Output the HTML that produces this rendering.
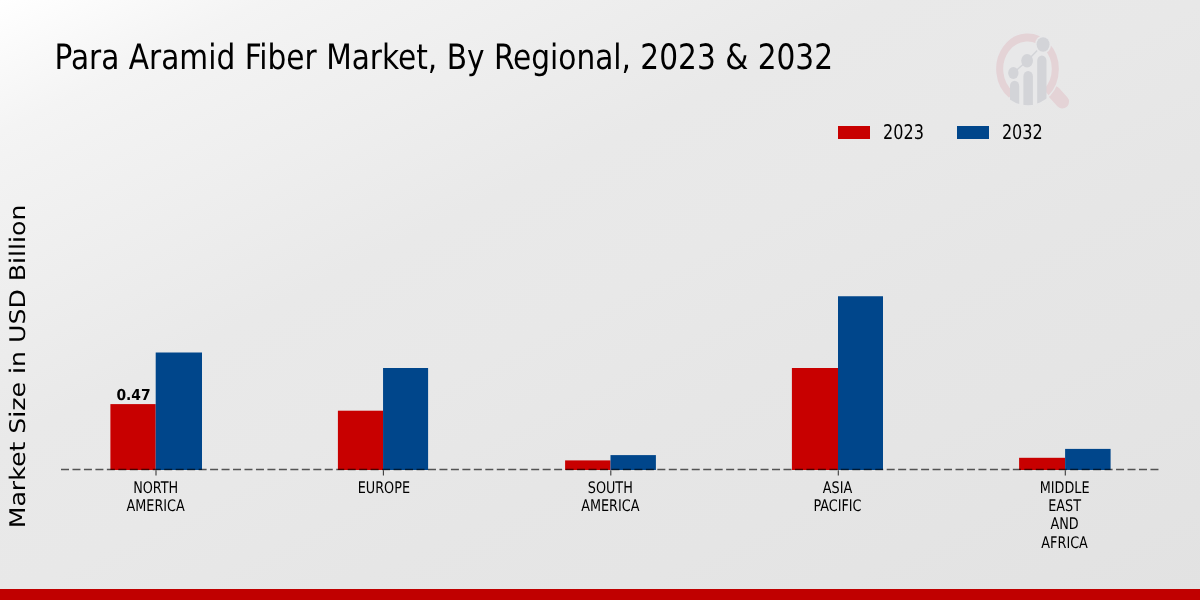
<!DOCTYPE html>
<html><head><meta charset="utf-8"><style>
html,body{margin:0;padding:0;width:1200px;height:600px;overflow:hidden;}
body{background:linear-gradient(to bottom right,#ffffff 0%,#f4f4f4 11%,#f2f2f2 15%,#eeeeee 25%,#e9e9e9 37%,#e8e8e8 50%,#e6e6e6 63%,#e5e5e5 75%,#e2e2e2 100%);}
svg{position:absolute;left:0;top:0;will-change:transform;}
text{font-family:"DejaVu Sans","Liberation Sans",sans-serif;text-rendering:geometricPrecision;}
</style></head><body>
<svg width="1200" height="600" viewBox="0 0 1200 600">
<defs><clipPath id="lensclip"><ellipse cx="0" cy="0" rx="37.2" ry="36.3"/></clipPath></defs>
<g id="logo">
 <line x1="1054" y1="92.5" x2="1062.3" y2="101.7" stroke="#e4d3d6" stroke-width="13.5" stroke-linecap="round"/>
 <g transform="translate(1027.5 69) scale(0.88 1)">
 <circle cx="0" cy="0" r="37.2" fill="#e8e8e9"/>
 <path d="M-18.57 25.56 A31.6 31.6 0 1 1 21.3 23.34" fill="none" stroke="#e4d3d6" stroke-width="8"/>
 <g clip-path="url(#lensclip)" fill="#d3d4d8">
  <path d="M-19.9 17.05 a5.235 5.235 0 0 1 10.47 0 V40 H-19.9 Z"/>
  <path d="M-4.66 7.4 a5.4 5.4 0 0 1 10.8 0 V40 H-4.66 Z"/>
  <path d="M11.02 -8.33 a5.29 5.17 0 0 1 10.58 0 V40 H11.02 Z"/>
 </g>
 <polyline points="-16.1,4 -0.45,-8.2 17.7,-24.5" fill="none" stroke="#d3d4d8" stroke-width="1.5"/>
 <circle cx="17.7" cy="-24.5" r="9.1" fill="#e8e8e9"/>
 <circle cx="-16.1" cy="4" r="5.9" fill="#d3d4d8"/>
 <circle cx="-0.45" cy="-8.2" r="6.7" fill="#d3d4d8"/>
 <circle cx="17.7" cy="-24.5" r="7.35" fill="#d3d4d8"/>
 </g>
</g>
<text transform="translate(54.50 69.00) scale(0.9437 1)" text-anchor="start" font-size="34.9" font-weight="normal" font-stretch="condensed" style="font-family:&quot;DejaVu Sans Condensed&quot;,&quot;DejaVu Sans&quot;,&quot;Liberation Sans Narrow&quot;,sans-serif" fill="#000" >Para Aramid Fiber Market, By Regional, 2023 &amp; 2032</text>
<rect x="838" y="126" width="32" height="13" fill="#c80000"/>
<text transform="translate(883.00 139.40) scale(0.885 1)" text-anchor="start" font-size="20.2" font-weight="normal" font-stretch="condensed" style="font-family:&quot;DejaVu Sans Condensed&quot;,&quot;DejaVu Sans&quot;,&quot;Liberation Sans Narrow&quot;,sans-serif" fill="#000" >2023</text>
<rect x="957" y="126" width="32" height="13" fill="#00468b"/>
<text transform="translate(1001.90 139.40) scale(0.885 1)" text-anchor="start" font-size="20.2" font-weight="normal" font-stretch="condensed" style="font-family:&quot;DejaVu Sans Condensed&quot;,&quot;DejaVu Sans&quot;,&quot;Liberation Sans Narrow&quot;,sans-serif" fill="#000" >2032</text>
<text transform="translate(24.8 528.3) rotate(-90) scale(1 0.855)" font-size="25.2" fill="#000">Market Size in USD Billion</text>
<rect x="110.40" y="404.10" width="45.30" height="65.90" fill="#c80000"/>
<rect x="155.70" y="352.50" width="46.30" height="117.50" fill="#00468b"/>
<rect x="337.90" y="410.70" width="45.15" height="59.30" fill="#c80000"/>
<rect x="383.05" y="368.00" width="45.05" height="102.00" fill="#00468b"/>
<rect x="565.10" y="460.40" width="45.40" height="9.60" fill="#c80000"/>
<rect x="610.50" y="455.10" width="45.40" height="14.90" fill="#00468b"/>
<rect x="791.90" y="368.00" width="46.10" height="102.00" fill="#c80000"/>
<rect x="838.00" y="296.25" width="45.00" height="173.75" fill="#00468b"/>
<rect x="1019.10" y="457.80" width="46.00" height="12.20" fill="#c80000"/>
<rect x="1065.10" y="448.90" width="45.50" height="21.10" fill="#00468b"/>
<line x1="61" y1="469.55" x2="1159" y2="469.55" stroke="#000" stroke-opacity="0.64" stroke-width="1.4" stroke-dasharray="8 3.468"/>
<line x1="156.00" y1="470.20" x2="156.00" y2="475.40" stroke="#000" stroke-opacity="0.75" stroke-width="1.1"/>
<line x1="383.40" y1="470.20" x2="383.40" y2="475.40" stroke="#000" stroke-opacity="0.75" stroke-width="1.1"/>
<line x1="610.80" y1="470.20" x2="610.80" y2="475.40" stroke="#000" stroke-opacity="0.75" stroke-width="1.1"/>
<line x1="838.30" y1="470.20" x2="838.30" y2="475.40" stroke="#000" stroke-opacity="0.75" stroke-width="1.1"/>
<line x1="1065.30" y1="470.20" x2="1065.30" y2="475.40" stroke="#000" stroke-opacity="0.75" stroke-width="1.1"/>
<text transform="translate(133.50 400.30) scale(0.913 1)" text-anchor="middle" font-size="15.2" font-weight="bold" font-stretch="normal" fill="#000" >0.47</text>
<text transform="translate(155.65 492.70) scale(0.89 1)" text-anchor="middle" font-size="16" font-weight="normal" font-stretch="condensed" style="font-family:&quot;DejaVu Sans Condensed&quot;,&quot;DejaVu Sans&quot;,&quot;Liberation Sans Narrow&quot;,sans-serif" fill="#000" >NORTH</text>
<text transform="translate(155.65 511.00) scale(0.89 1)" text-anchor="middle" font-size="16" font-weight="normal" font-stretch="condensed" style="font-family:&quot;DejaVu Sans Condensed&quot;,&quot;DejaVu Sans&quot;,&quot;Liberation Sans Narrow&quot;,sans-serif" fill="#000" >AMERICA</text>
<text transform="translate(383.85 492.70) scale(0.89 1)" text-anchor="middle" font-size="16" font-weight="normal" font-stretch="condensed" style="font-family:&quot;DejaVu Sans Condensed&quot;,&quot;DejaVu Sans&quot;,&quot;Liberation Sans Narrow&quot;,sans-serif" fill="#000" >EUROPE</text>
<text transform="translate(610.30 492.70) scale(0.89 1)" text-anchor="middle" font-size="16" font-weight="normal" font-stretch="condensed" style="font-family:&quot;DejaVu Sans Condensed&quot;,&quot;DejaVu Sans&quot;,&quot;Liberation Sans Narrow&quot;,sans-serif" fill="#000" >SOUTH</text>
<text transform="translate(610.30 511.00) scale(0.89 1)" text-anchor="middle" font-size="16" font-weight="normal" font-stretch="condensed" style="font-family:&quot;DejaVu Sans Condensed&quot;,&quot;DejaVu Sans&quot;,&quot;Liberation Sans Narrow&quot;,sans-serif" fill="#000" >AMERICA</text>
<text transform="translate(837.50 492.70) scale(0.89 1)" text-anchor="middle" font-size="16" font-weight="normal" font-stretch="condensed" style="font-family:&quot;DejaVu Sans Condensed&quot;,&quot;DejaVu Sans&quot;,&quot;Liberation Sans Narrow&quot;,sans-serif" fill="#000" >ASIA</text>
<text transform="translate(837.50 511.00) scale(0.89 1)" text-anchor="middle" font-size="16" font-weight="normal" font-stretch="condensed" style="font-family:&quot;DejaVu Sans Condensed&quot;,&quot;DejaVu Sans&quot;,&quot;Liberation Sans Narrow&quot;,sans-serif" fill="#000" >PACIFIC</text>
<text transform="translate(1064.60 492.70) scale(0.89 1)" text-anchor="middle" font-size="16" font-weight="normal" font-stretch="condensed" style="font-family:&quot;DejaVu Sans Condensed&quot;,&quot;DejaVu Sans&quot;,&quot;Liberation Sans Narrow&quot;,sans-serif" fill="#000" >MIDDLE</text>
<text transform="translate(1064.60 511.00) scale(0.89 1)" text-anchor="middle" font-size="16" font-weight="normal" font-stretch="condensed" style="font-family:&quot;DejaVu Sans Condensed&quot;,&quot;DejaVu Sans&quot;,&quot;Liberation Sans Narrow&quot;,sans-serif" fill="#000" >EAST</text>
<text transform="translate(1064.60 529.30) scale(0.89 1)" text-anchor="middle" font-size="16" font-weight="normal" font-stretch="condensed" style="font-family:&quot;DejaVu Sans Condensed&quot;,&quot;DejaVu Sans&quot;,&quot;Liberation Sans Narrow&quot;,sans-serif" fill="#000" >AND</text>
<text transform="translate(1064.60 547.60) scale(0.89 1)" text-anchor="middle" font-size="16" font-weight="normal" font-stretch="condensed" style="font-family:&quot;DejaVu Sans Condensed&quot;,&quot;DejaVu Sans&quot;,&quot;Liberation Sans Narrow&quot;,sans-serif" fill="#000" >AFRICA</text>
<rect x="0" y="589" width="1200" height="11" fill="#c00000"/>
</svg></body></html>
